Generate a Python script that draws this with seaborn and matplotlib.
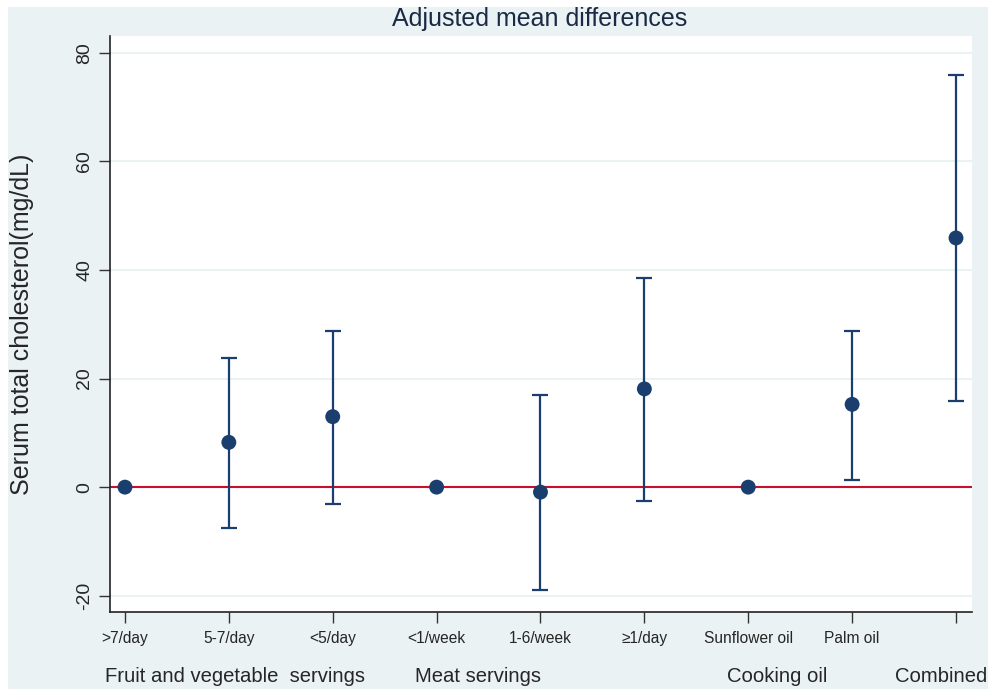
import matplotlib
matplotlib.use("Agg")
import matplotlib.pyplot as plt
import seaborn as sns
import pandas as pd
from matplotlib.patches import Rectangle

categories = [">7/day", "5-7/day", "<5/day", "<1/week", "1-6/week",
              "\u22651/day", "Sunflower oil", "Palm oil", ""]
estimates = [0, 8.25, 12.98, 0, -0.92, 18.1, 0, 15.25, 45.9]
ci_low = [0, -7.6, -3.1, 0, -19.0, -2.6, 0, 1.4, 15.8]
ci_high = [0, 23.7, 28.7, 0, 17.0, 38.5, 0, 28.8, 75.9]
groups = ["Fruit and vegetable  servings", "Meat servings", "Cooking oil", "Combined"]
group_x = [105, 415, 727, 895]   # left edge in pixels
yticks = [-20, 0, 20, 40, 60, 80]

bg = "#eaf2f3"
navy = "#1a3e6e"
red = "#c8102e"

df = pd.DataFrame({"pos": range(len(categories)), "label": categories,
                   "est": estimates, "lo": ci_low, "hi": ci_high})

sns.set_theme(style="white")
plt.rcParams["font.family"] = ["Liberation Sans", "DejaVu Sans"]

fig = plt.figure(figsize=(9.88, 6.89), dpi=100, facecolor="white")
fig.patches.append(Rectangle((8 / 988, 0), 1, 1 - 7 / 689, transform=fig.transFigure,
                             facecolor=bg, edgecolor="none", zorder=-10))
ax = fig.add_axes([110 / 988, 1 - 612 / 689, 862 / 988, 576 / 689])
ax.set_facecolor("white")

# grid lines and reference line at zero
for y in yticks:
    ax.axhline(y, color=bg, lw=1.5, zorder=0)
ax.axhline(0, color=red, lw=1.5, zorder=1)

# confidence intervals (reference categories have none)
ci = df[df["lo"] != df["hi"]]
ax.errorbar(ci["pos"], ci["est"], yerr=[ci["est"] - ci["lo"], ci["hi"] - ci["est"]],
            fmt="none", ecolor=navy, elinewidth=1.6, capsize=6, capthick=1.6, zorder=2)
sns.scatterplot(data=df, x="pos", y="est", color=navy, s=115, edgecolor="none",
                zorder=3, ax=ax)

ax.set_xlim(-0.144, 8.154)
ax.set_ylim(-23.0, 83.1)
ax.set_xticks(df["pos"])
ax.set_xticklabels(categories, fontsize=11.2)
ax.set_yticks(yticks)
ax.set_yticklabels(yticks, rotation=90, va="center", fontsize=14)
ax.tick_params(axis="both", direction="out", length=8, width=1, color="#333333",
               bottom=True, left=True)
ax.tick_params(axis="y", pad=4)
ax.tick_params(axis="x", pad=6)
for side in ["top", "right"]:
    ax.spines[side].set_visible(False)
for side in ["left", "bottom"]:
    ax.spines[side].set_color("#222222")
    ax.spines[side].set_linewidth(1.2)

ax.set_xlabel("")
ax.set_ylabel("Serum total cholesterol(mg/dL)", fontsize=18)
ax.yaxis.set_label_coords(-0.088, 0.5)
fig.text(540 / 988, 1 - 19 / 689, "Adjusted mean differences", ha="center",
         va="center", fontsize=18, color="#1a2a44")

for g, x in zip(groups, group_x):
    fig.text(x / 988, 1 - 676 / 689, g, ha="left", va="center", fontsize=14.6)

fig.savefig("out.png", dpi=100, facecolor=fig.get_facecolor())
